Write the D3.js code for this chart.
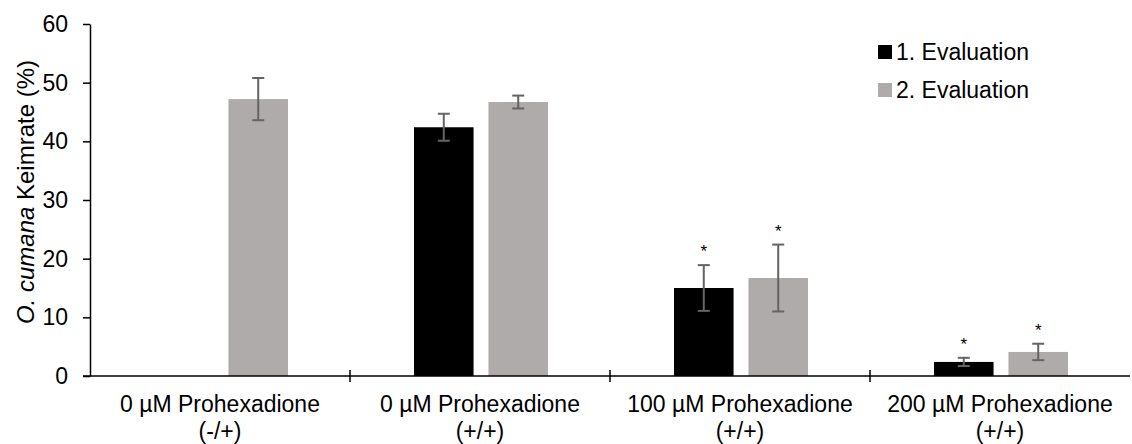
<!DOCTYPE html>
<html>
<head>
<meta charset="utf-8">
<script src="https://cdn.jsdelivr.net/npm/d3@7"></script>
<style>
  body { margin: 0; background: #fff; }
  text { font-family: "Liberation Sans", Arial, sans-serif; }
</style>
</head>
<body>
<div id="chart"></div>
<script>
// data
const categories = ["0 µM Prohexadione|(-/+)", "0 µM Prohexadione|(+/+)", "100 µM Prohexadione|(+/+)", "200 µM Prohexadione|(+/+)"];
const seriesNames = ["1. Evaluation", "2. Evaluation"];
const evalOne = [0, 42.4, 15.0, 2.4];
const evalOneErr = [0, 2.3, 3.9, 0.7];
const evalTwo = [47.2, 46.7, 16.7, 4.1];
const evalTwoErr = [3.6, 1.1, 5.7, 1.4];
const evalOneSig = [false, false, true, true];
const evalTwoSig = [false, false, true, true];
const yTicks = [0, 10, 20, 30, 40, 50, 60];

const width = 1132, height = 444;
const margin = {top: 24, right: 2, bottom: 68, left: 90};
const fs = 23;

const svg = d3.select("#chart").append("svg")
    .attr("width", width)
    .attr("height", height);

const x = d3.scaleBand()
    .domain(categories)
    .range([margin.left, width - margin.right])
    .padding(0);

const xInner = d3.scaleBand()
    .domain(seriesNames)
    .range([64, 198])
    .paddingInner(0.2);

const y = d3.scaleLinear()
    .domain([0, 60])
    .range([height - margin.bottom, margin.top]);

const colors = {"1. Evaluation": "#000000", "2. Evaluation": "#afabab"};

// flatten to bar records
const bars = [];
categories.forEach((c, i) => {
    bars.push({cat: c, s: seriesNames[0], v: evalOne[i], e: evalOneErr[i], sig: evalOneSig[i]});
    bars.push({cat: c, s: seriesNames[1], v: evalTwo[i], e: evalTwoErr[i], sig: evalTwoSig[i]});
});

// bars
svg.append("g").selectAll("rect")
    .data(bars)
    .enter()
    .append("rect")
    .attr("x", d => x(d.cat) + xInner(d.s))
    .attr("y", d => y(d.v))
    .attr("width", xInner.bandwidth())
    .attr("height", d => y(0) - y(d.v))
    .attr("fill", d => colors[d.s]);

// error bars
const errG = svg.append("g")
    .attr("stroke", "#646464")
    .attr("stroke-width", 2);
bars.filter(d => d.e > 0).forEach(d => {
    const cx = x(d.cat) + xInner(d.s) + xInner.bandwidth() / 2;
    errG.append("line")
        .attr("x1", cx).attr("x2", cx)
        .attr("y1", y(d.v + d.e)).attr("y2", y(d.v - d.e));
    [d.v + d.e, d.v - d.e].forEach(v => {
        errG.append("line")
            .attr("x1", cx - 6).attr("x2", cx + 6)
            .attr("y1", y(v)).attr("y2", y(v));
    });
});

// significance stars
svg.append("g").selectAll("text")
    .data(bars.filter(d => d.sig))
    .enter()
    .append("text")
    .attr("x", d => x(d.cat) + xInner(d.s) + xInner.bandwidth() / 2)
    .attr("y", d => y(d.v + d.e) - 8)
    .attr("text-anchor", "middle")
    .attr("font-size", 17)
    .text("*");

// y axis
const yAxis = svg.append("g")
    .attr("transform", `translate(${margin.left},0)`)
    .call(d3.axisLeft(y).tickValues(yTicks).tickSize(7).tickSizeOuter(0));
yAxis.select(".domain").attr("stroke", "#000").attr("stroke-width", 1.5);
yAxis.selectAll(".tick line").attr("stroke", "#000").attr("stroke-width", 1.5);
yAxis.selectAll(".tick text")
    .attr("font-size", fs)
    .attr("font-family", "Liberation Sans, Arial, sans-serif")
    .attr("fill", "#000")
    .attr("x", -22);

// x axis line
svg.append("line")
    .attr("x1", margin.left - 7).attr("x2", width - margin.right)
    .attr("y1", y(0)).attr("y2", y(0))
    .attr("stroke", "#000").attr("stroke-width", 1.5);

// category divider ticks
svg.append("g").selectAll("line")
    .data(categories.slice(1))
    .enter()
    .append("line")
    .attr("x1", d => x(d)).attr("x2", d => x(d))
    .attr("y1", y(0) - 6).attr("y2", y(0) + 6)
    .attr("stroke", "#000").attr("stroke-width", 1.5);

// category labels (two lines)
const lab = svg.append("g").selectAll("text")
    .data(categories)
    .enter()
    .append("text")
    .attr("text-anchor", "middle")
    .attr("font-size", fs)
    .attr("fill", "#000");
lab.each(function(d) {
    const parts = d.split("|");
    const cx = x(d) + x.bandwidth() / 2;
    parts.forEach((p, i) => {
        d3.select(this).append("tspan")
            .attr("x", cx)
            .attr("y", y(0) + 36 + i * 27)
            .text(p);
    });
});

// y axis title
const yt = svg.append("text")
    .attr("transform", `translate(34,${(y(0) + y(60)) / 2 - 8}) rotate(-90)`)
    .attr("text-anchor", "middle")
    .attr("font-size", 24)
    .attr("fill", "#000");
yt.append("tspan").attr("font-style", "italic").text("O. cumana");
yt.append("tspan").text(" Keimrate (%)");

// legend
const legend = svg.append("g")
    .attr("transform", "translate(878,40)");
seriesNames.forEach((s, i) => {
    const g = legend.append("g").attr("transform", `translate(0,${i * 38})`);
    g.append("rect")
        .attr("x", 0).attr("y", 5)
        .attr("width", 14).attr("height", 14)
        .attr("fill", colors[s]);
    g.append("text")
        .attr("x", 18).attr("y", 20)
        .attr("font-size", fs)
        .attr("fill", "#000")
        .text(s);
});
</script>
</body>
</html>
